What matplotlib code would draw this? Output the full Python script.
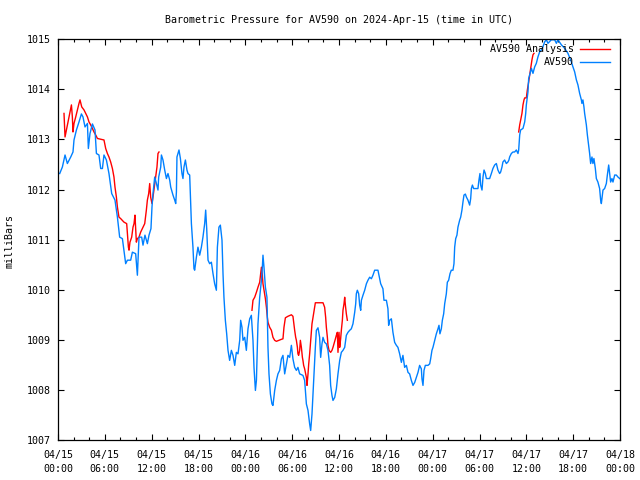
import matplotlib
matplotlib.use("Agg")
import matplotlib.pyplot as plt
from matplotlib.ticker import MultipleLocator, FuncFormatter
import numpy as np
import pandas as pd

START = pd.Timestamp("2024-04-15 00:00")
TITLE = "Barometric Pressure for AV590 on 2024-Apr-15 (time in UTC)"

# observed pressure, hours since 04/15 00:00 UTC
obs_hours = [
    0.22, 0.56, 0.90, 1.20, 1.63, 1.92, 2.05, 2.36, 2.69, 3.00,
    3.20, 3.46, 3.77, 3.89, 4.10, 4.41, 4.74, 4.92, 5.25, 5.47,
    5.69, 5.89, 6.20, 6.53, 6.88, 7.30, 7.61, 7.90, 8.25, 8.67,
    8.89, 9.31, 9.53, 9.95, 10.17, 10.38, 10.72, 10.89, 11.14, 11.45,
    11.66, 11.91, 12.04, 12.17, 12.39, 12.61, 12.81, 12.90, 13.16, 13.25,
    13.45, 13.67, 13.89, 14.09, 14.31, 14.44, 14.73, 14.95, 15.08, 15.17,
    15.24, 15.37, 15.50, 15.68, 15.88, 16.01, 16.14, 16.32, 16.52, 16.65,
    16.87, 17.09, 17.29, 17.42, 17.51, 17.73, 17.93, 18.15, 18.37, 18.57,
    18.79, 18.92, 19.05, 19.22, 19.43, 19.65, 19.86, 20.07, 20.29, 20.42,
    20.62, 20.80, 21.01, 21.14, 21.26, 21.44, 21.61, 21.78, 21.99, 22.21,
    22.42, 22.64, 22.85, 23.06, 23.28, 23.40, 23.57, 23.70, 23.92, 24.13,
    24.34, 24.56, 24.77, 24.98, 25.11, 25.29, 25.42, 25.62, 25.84, 26.06,
    26.18, 26.26, 26.39, 26.57, 26.77, 26.90, 27.03, 27.21, 27.41, 27.54,
    27.76, 27.98, 28.18, 28.40, 28.62, 28.82, 29.04, 29.26, 29.46, 29.68,
    29.90, 30.10, 30.32, 30.54, 30.74, 30.96, 31.38, 31.60, 31.82, 32.03,
    32.24, 32.37, 32.54, 32.67, 32.79, 32.97, 33.10, 33.31, 33.52, 33.65,
    33.82, 33.95, 34.16, 34.38, 34.59, 34.80, 34.93, 35.10, 35.23, 35.45,
    35.66, 35.87, 36.09, 36.30, 36.51, 36.73, 36.94, 37.15, 37.37, 37.58,
    37.79, 38.01, 38.14, 38.22, 38.35, 38.52, 38.65, 38.78, 38.87, 39.07,
    39.29, 39.51, 39.71, 39.93, 40.15, 40.35, 40.57, 40.99, 41.12, 41.34,
    41.63, 41.76, 42.07, 42.27, 42.36, 42.49, 42.71, 42.91, 43.13, 43.35,
    43.55, 43.77, 43.99, 44.19, 44.41, 44.63, 44.84, 45.05, 45.27, 45.48,
    45.70, 45.91, 46.12, 46.33, 46.55, 46.63, 46.76, 46.89, 47.06, 47.40,
    47.62, 47.74, 47.91, 48.04, 48.26, 48.47, 48.68, 48.81, 48.93, 49.11,
    49.24, 49.41, 49.54, 49.75, 49.88, 50.05, 50.22, 50.39, 50.60, 50.73,
    50.82, 50.95, 51.11, 51.24, 51.46, 51.59, 51.75, 51.88, 52.01, 52.19,
    52.32, 52.52, 52.74, 52.87, 52.96, 53.09, 53.25, 53.80, 53.93, 54.06,
    54.15, 54.32, 54.45, 54.58, 54.75, 54.88, 55.30, 55.52, 55.72, 55.94,
    56.16, 56.36, 56.58, 56.71, 56.88, 57.00, 57.22, 57.44, 57.64, 57.77,
    57.86, 58.08, 58.29, 58.50, 58.72, 58.93, 59.02, 59.15, 59.27, 59.57,
    59.79, 59.92, 60.00, 60.21, 60.30, 60.43, 60.65, 60.85, 61.07, 61.28,
    61.49, 61.71, 61.93, 62.13, 62.35, 62.57, 62.77, 63.20, 63.63, 63.85,
    64.05, 64.49, 64.91, 65.33, 65.77, 65.97, 66.19, 66.41, 66.61, 66.83,
    67.05, 67.12, 67.25, 67.38, 67.47, 67.60, 67.69, 67.82, 67.98, 68.11,
    68.24, 68.41, 68.53, 68.66, 68.84, 68.97, 69.17, 69.39, 69.52, 69.61,
    69.69, 69.82, 70.03, 70.25, 70.38, 70.55, 70.68, 70.80, 70.97, 71.10,
    71.32, 71.53, 71.74, 71.96,
]
obs_mb = [
    1012.32, 1012.45, 1012.69, 1012.52, 1012.65, 1012.75, 1012.99, 1013.19, 1013.35, 1013.51,
    1013.45, 1013.25, 1013.32, 1012.82, 1013.12, 1013.31, 1013.19, 1012.72, 1012.69, 1012.42,
    1012.42, 1012.69, 1012.59, 1012.32, 1011.92, 1011.79, 1011.45, 1011.05, 1011.02, 1010.52,
    1010.59, 1010.59, 1010.75, 1010.72, 1010.29, 1011.05, 1011.05, 1010.89, 1011.09, 1010.92,
    1011.09, 1011.22, 1011.65, 1011.92, 1012.25, 1012.12, 1011.99, 1012.25, 1012.45, 1012.69,
    1012.59, 1012.39, 1012.22, 1012.32, 1012.19, 1012.05, 1011.89, 1011.79, 1011.72, 1011.95,
    1012.65, 1012.72, 1012.79, 1012.62, 1012.32, 1012.22, 1012.45, 1012.59, 1012.39, 1012.32,
    1012.29, 1011.32, 1010.85, 1010.42, 1010.39, 1010.65, 1010.85, 1010.69, 1010.85, 1011.05,
    1011.32, 1011.59, 1011.22, 1010.59, 1010.52, 1010.55, 1010.32, 1010.12, 1009.99, 1010.85,
    1011.25, 1011.29, 1010.99, 1010.32, 1009.85, 1009.39, 1009.12, 1008.79, 1008.59, 1008.79,
    1008.69, 1008.49, 1008.75, 1008.72, 1008.99, 1009.39, 1009.25, 1008.99, 1009.05, 1008.79,
    1009.22, 1009.42, 1009.49, 1008.99, 1008.45, 1007.99, 1008.19, 1009.32, 1009.85, 1010.19,
    1010.45, 1010.69, 1010.45, 1010.05, 1009.85, 1008.85, 1008.32, 1007.92, 1007.72, 1007.69,
    1007.99, 1008.19, 1008.32, 1008.39, 1008.62, 1008.69, 1008.32, 1008.52, 1008.69, 1008.65,
    1008.89, 1008.62, 1008.45, 1008.39, 1008.45, 1008.32, 1008.29, 1008.19, 1007.72, 1007.59,
    1007.32, 1007.19, 1007.52, 1007.92, 1008.32, 1008.85, 1009.19, 1009.24, 1009.05, 1008.65,
    1008.92, 1009.05, 1008.95, 1008.92, 1008.79, 1008.49, 1008.09, 1007.89, 1007.79, 1007.85,
    1008.02, 1008.32, 1008.59, 1008.75, 1008.79, 1008.85, 1009.09, 1009.15, 1009.19, 1009.22,
    1009.32, 1009.55, 1009.72, 1009.92, 1009.99, 1009.92, 1009.69, 1009.59, 1009.79, 1009.89,
    1009.99, 1010.12, 1010.19, 1010.25, 1010.22, 1010.29, 1010.39, 1010.39, 1010.29, 1010.12,
    1010.02, 1009.79, 1009.79, 1009.62, 1009.29, 1009.39, 1009.42, 1009.15, 1008.95, 1008.89,
    1008.85, 1008.72, 1008.55, 1008.69, 1008.45, 1008.49, 1008.35, 1008.32, 1008.19, 1008.09,
    1008.15, 1008.25, 1008.35, 1008.49, 1008.42, 1008.22, 1008.09, 1008.39, 1008.49, 1008.49,
    1008.52, 1008.62, 1008.79, 1008.85, 1008.99, 1009.12, 1009.22, 1009.29, 1009.12, 1009.22,
    1009.39, 1009.52, 1009.72, 1009.92, 1010.15, 1010.19, 1010.32, 1010.39, 1010.39, 1010.52,
    1010.85, 1011.02, 1011.09, 1011.25, 1011.39, 1011.45, 1011.59, 1011.75, 1011.89, 1011.91,
    1011.85, 1011.79, 1011.69, 1011.82, 1012.02, 1012.09, 1012.02, 1012.02, 1012.19, 1012.32,
    1012.09, 1011.99, 1012.25, 1012.39, 1012.32, 1012.22, 1012.22, 1012.32, 1012.42, 1012.49,
    1012.52, 1012.39, 1012.32, 1012.35, 1012.45, 1012.55, 1012.59, 1012.52, 1012.55, 1012.59,
    1012.65, 1012.72, 1012.75, 1012.75, 1012.79, 1012.72, 1012.79, 1013.09, 1013.19, 1013.22,
    1013.35, 1013.52, 1013.69, 1013.95, 1014.22, 1014.29, 1014.42, 1014.32, 1014.45, 1014.52,
    1014.65, 1014.75, 1014.79, 1014.85, 1014.95, 1014.99, 1014.92, 1014.99, 1014.99, 1014.92,
    1014.99, 1014.89, 1014.82, 1014.72, 1014.55, 1014.45, 1014.35, 1014.19, 1014.09, 1013.92,
    1013.79, 1013.72, 1013.79, 1013.65, 1013.52, 1013.39, 1013.29, 1013.09, 1012.89, 1012.72,
    1012.52, 1012.65, 1012.52, 1012.62, 1012.42, 1012.22, 1012.15, 1012.02, 1011.79, 1011.72,
    1011.82, 1011.99, 1012.02, 1012.12, 1012.29, 1012.49, 1012.32, 1012.15, 1012.22, 1012.15,
    1012.29, 1012.29, 1012.25, 1012.22,
]

# analysis runs (three separate pieces)
ana1_hours = [
    0.77, 0.90, 1.08, 1.28, 1.50, 1.72, 1.84, 1.92, 2.05, 2.27,
    2.49, 2.69, 2.82, 3.04, 3.33, 3.55, 3.77, 3.97, 4.19, 4.41,
    4.61, 4.83, 5.05, 5.89, 6.11, 6.33, 6.53, 6.75, 6.97, 7.17,
    7.30, 7.48, 7.61, 7.81, 8.03, 8.45, 8.80, 9.02, 9.10, 9.22,
    9.44, 9.61, 9.74, 9.86, 10.04, 10.17, 10.38, 10.59, 10.81, 11.02,
    11.11, 11.32, 11.45, 11.62, 11.75, 11.87, 12.04, 12.17, 12.39, 12.51,
    12.68, 12.81, 12.94,
]
ana1_mb = [
    1013.52, 1013.05, 1013.19, 1013.35, 1013.52, 1013.69, 1013.45, 1013.15, 1013.32, 1013.45,
    1013.59, 1013.72, 1013.79, 1013.65, 1013.59, 1013.52, 1013.45, 1013.35, 1013.29, 1013.22,
    1013.15, 1013.09, 1013.02, 1012.99, 1012.82, 1012.72, 1012.65, 1012.55, 1012.42, 1012.25,
    1012.05, 1011.85, 1011.65, 1011.45, 1011.42, 1011.35, 1011.32, 1010.85, 1010.79, 1010.95,
    1011.05, 1011.25, 1011.32, 1011.49, 1010.95, 1011.02, 1011.05, 1011.15, 1011.22, 1011.29,
    1011.32, 1011.59, 1011.79, 1011.92, 1012.12, 1011.85, 1011.72, 1011.85, 1012.12, 1012.25,
    1012.45, 1012.72, 1012.75,
]
ana2_hours = [
    24.85, 24.98, 25.20, 25.42, 25.62, 25.84, 25.97, 26.06, 26.18, 26.26,
    26.39, 26.57, 26.70, 26.82, 26.90, 27.12, 27.34, 27.54, 27.76, 27.98,
    28.62, 28.82, 28.95, 29.13, 29.46, 29.90, 30.10, 30.32, 30.45, 30.54,
    30.67, 30.74, 30.83, 30.96, 31.05, 31.18, 31.31, 31.38, 31.47, 31.60,
    31.73, 31.82, 31.90, 32.03, 32.12, 32.24, 32.37, 32.54, 32.67, 32.88,
    32.97, 33.95, 34.16, 34.29, 34.38, 34.51, 34.59, 34.72, 34.93, 35.10,
    35.23, 35.36, 35.54, 35.66, 35.79, 35.87, 36.00, 36.09, 36.21, 36.30,
    36.43, 36.51, 36.64, 36.73, 36.82, 36.94, 37.07,
]
ana2_mb = [
    1009.59, 1009.79, 1009.85, 1009.95, 1010.05, 1010.15, 1010.32, 1010.45, 1010.29, 1010.12,
    1009.99, 1009.82, 1009.65, 1009.45, 1009.35, 1009.25, 1009.19, 1009.05, 1008.99, 1008.97,
    1009.01, 1009.02, 1009.25, 1009.44, 1009.47, 1009.50, 1009.47, 1009.19, 1009.05, 1008.99,
    1008.85, 1008.72, 1008.69, 1008.79, 1008.99, 1008.85, 1008.65, 1008.59, 1008.49, 1008.42,
    1008.32, 1008.25, 1008.09, 1008.32, 1008.52, 1008.72, 1008.99, 1009.32, 1009.45, 1009.65,
    1009.74, 1009.74, 1009.65, 1009.45, 1009.25, 1009.05, 1008.89, 1008.79, 1008.75, 1008.79,
    1008.85, 1008.92, 1009.02, 1009.09, 1009.15, 1008.75, 1009.15, 1008.85, 1009.02, 1009.19,
    1009.39, 1009.59, 1009.72, 1009.85, 1009.69, 1009.52, 1009.39,
]
ana3_hours = [
    59.02, 59.15, 59.27, 59.44, 59.57, 59.70, 59.79, 60.00, 60.13, 60.30,
    60.43, 60.55, 60.72, 60.85, 60.98,
]
ana3_mb = [
    1013.15, 1013.29, 1013.39, 1013.52, 1013.69, 1013.79, 1013.83, 1013.83, 1013.99, 1014.15,
    1014.29, 1014.42, 1014.59, 1014.69, 1014.72,
]

plt.rcParams["font.family"] = ["DejaVu Sans Mono"]
plt.rcParams["font.size"] = 7.2

fig = plt.figure(figsize=(6.4, 4.8), dpi=100)
ax = fig.add_axes([58 / 640, 40 / 480, 562 / 640, 400.7 / 480])

# join the analysis pieces with gaps so they draw as one series
gap = [np.nan]
ana_hours = ana1_hours + gap + ana2_hours + gap + ana3_hours
ana_mb = ana1_mb + gap + ana2_mb + gap + ana3_mb

ax.plot(ana_hours, ana_mb, color="#ff0000", lw=1.0, label="AV590 Analysis")
ax.plot(obs_hours, obs_mb, color="#0080ff", lw=1.0, label="AV590")

ax.set_xlim(0, 72)
ax.set_ylim(1007, 1015)

ax.xaxis.set_major_locator(MultipleLocator(6))
ax.xaxis.set_minor_locator(MultipleLocator(2))
ax.yaxis.set_major_locator(MultipleLocator(1))
ax.xaxis.set_major_formatter(
    FuncFormatter(lambda h, _: (START + pd.Timedelta(hours=h)).strftime("%m/%d\n%H:%M"))
)
ax.yaxis.set_major_formatter(FuncFormatter(lambda v, _: f"{v:.0f}"))

ax.tick_params(which="both", direction="in", top=True, right=True, width=0.8)
ax.tick_params(which="major", length=4.5)
ax.tick_params(which="minor", length=2.5)
ax.tick_params(axis="x", pad=7.5)
ax.tick_params(axis="y", pad=5)
for lbl in ax.get_xticklabels():
    lbl.set_linespacing(1.5)
for s in ax.spines.values():
    s.set_linewidth(0.9)

fig.text(339 / 640, 1 - 20 / 480, TITLE, ha="center", va="center")
fig.text(10 / 640, 1 - 241 / 480, "milliBars", rotation=90, ha="center", va="center")

ax.legend(loc="upper right", bbox_to_anchor=(0.9875, 0.995), markerfirst=False,
          frameon=False, handlelength=3.0, handletextpad=0.6, labelspacing=0.3,
          borderaxespad=0.0, borderpad=0.3)

fig.savefig("out.png", dpi=100)
